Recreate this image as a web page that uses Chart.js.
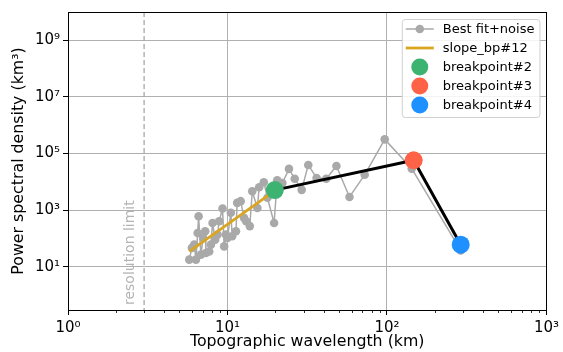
<!DOCTYPE html>
<html>
<head>
<meta charset="utf-8">
<script src="https://cdn.jsdelivr.net/npm/chart.js@4"></script>
<style>
  html, body { margin: 0; padding: 0; background: #fff; }
</style>
</head>
<body>
<canvas id="psdChart" width="563" height="352"></canvas>
<script>
// Best fit + noise (wavelength in km, PSD in km^3)
const wavelength = [5.76, 5.98, 6.19, 6.34, 6.50, 6.59, 6.81, 7.04, 7.25, 7.32, 7.68, 7.87, 8.06, 8.37, 8.66, 8.87,
  9.31, 9.53, 9.77, 10.0, 10.5, 10.7, 11.3, 11.5, 12.1, 12.7, 13.1, 13.8, 14.3, 15.4, 15.8, 16.9, 17.8, 19.6,
  20.5, 22.1, 24.3, 26.4, 29.2, 32.1, 36.2, 41.6, 48.2, 58.2, 72.5, 96.8, 143, 290];
const psd = [18, 47, 61, 18, 158, 616, 27, 105, 182, 31, 35, 61, 355, 91, 138, 408,
  1150, 53, 138, 105, 810, 120, 182, 1820, 2090, 537, 408, 275, 4680, 1200, 6470, 9770, 2750, 355,
  11500, 9120, 28800, 12900, 5250, 39800, 13800, 12900, 36300, 2950, 17800, 318000, 29500, 38];

// slope fit up to breakpoint #2
const slopeX = [5.77, 18.2];
const slopeY = [35.3, 3470];

// breakpoints
const bpLabels = ['breakpoint#2', 'breakpoint#3', 'breakpoint#4'];
const bpX = [19.8, 147, 290];
const bpY = [5130, 58200, 60.5];
const bpColors = ['#3cb371', '#ff6347', '#1e90ff'];

const resolutionLimit = 3;

const xTickValues = [1, 10, 100, 1000];
const xTickLabels = ['10⁰', '10¹', '10²', '10³'];
const yTickValues = [1e1, 1e3, 1e5, 1e7, 1e9];
const yTickLabels = ['10¹', '10³', '10⁵', '10⁷', '10⁹'];

Chart.defaults.font.family = "'DejaVu Sans', sans-serif";
Chart.defaults.font.size = 15;
Chart.defaults.color = '#000';

const toPts = (xs, ys) => xs.map((x, i) => ({ x: x, y: ys[i] }));

const datasets = [];
bpLabels.forEach((lab, i) => {
  datasets.push({
    label: lab, inLegend: true, kind: 'dot',
    data: [{ x: bpX[i], y: bpY[i] }],
    showLine: false, pointRadius: 9, pointHoverRadius: 9,
    pointBackgroundColor: bpColors[i], pointBorderWidth: 0,
    backgroundColor: bpColors[i], borderColor: bpColors[i], order: 0
  });
});
datasets.unshift({
  label: 'slope_bp#12', inLegend: true, kind: 'line',
  data: toPts(slopeX, slopeY), showLine: true, pointRadius: 0,
  borderColor: '#daa520', borderWidth: 2.8, order: 2
});
datasets.unshift({
  label: 'Best fit+noise', inLegend: true, kind: 'lineDot',
  data: toPts(wavelength, psd), showLine: true,
  borderColor: '#a9a9a9', borderWidth: 1.5, borderJoinStyle: 'round',
  pointRadius: 4.3, pointBackgroundColor: '#a9a9a9', pointBorderWidth: 0,
  order: 3
});
datasets.push({
  label: 'breakpoint fit', inLegend: false,
  data: toPts(bpX, bpY), showLine: true, pointRadius: 0,
  borderColor: '#000', borderWidth: 3, order: 1
});

// resolution line, minor ticks, frame, legend
const extras = {
  id: 'extras',
  beforeDatasetsDraw(chart) {
    const { ctx, chartArea: a, scales: { x } } = chart;
    const px = x.getPixelForValue(resolutionLimit);
    ctx.save();
    ctx.strokeStyle = '#a0a0a0';
    ctx.lineWidth = 1.2;
    ctx.setLineDash([5, 3]);
    ctx.beginPath();
    ctx.moveTo(px, a.top);
    ctx.lineTo(px, a.bottom);
    ctx.stroke();
    ctx.setLineDash([]);
    ctx.translate(px - 14, a.bottom - 5);
    ctx.rotate(-Math.PI / 2);
    ctx.fillStyle = '#b4b4b4';
    ctx.font = "14px 'DejaVu Sans'";
    ctx.textAlign = 'left';
    ctx.textBaseline = 'middle';
    ctx.fillText('resolution limit', 0, 0);
    ctx.restore();
  },
  afterDraw(chart) {
    const { ctx, chartArea: a, scales: { x } } = chart;
    ctx.save();
    // minor x ticks
    ctx.strokeStyle = '#000';
    ctx.lineWidth = 0.8;
    for (let d = 1; d < 1000; d *= 10) {
      for (let m = 2; m < 10; m++) {
        const px = Math.round(x.getPixelForValue(m * d)) + 0.5;
        ctx.beginPath();
        ctx.moveTo(px, a.bottom);
        ctx.lineTo(px, a.bottom + 3);
        ctx.stroke();
      }
    }
    // frame
    ctx.lineWidth = 1;
    ctx.strokeRect(Math.round(a.left) + 0.5, Math.round(a.top) + 0.5,
      Math.round(a.right - a.left), Math.round(a.bottom - a.top));

    // legend
    const items = chart.data.datasets.filter(d => d.inLegend);
    ctx.font = "13px 'DejaVu Sans'";
    const tw = Math.max(...items.map(d => ctx.measureText(d.label).width));
    const rowH = 19;
    const w = 4 + 28 + 9 + tw + 5;
    const h = items.length * rowH + 3;
    const bx = a.right - 7 - w;
    const by = a.top + 7;
    ctx.fillStyle = 'rgba(255,255,255,0.85)';
    ctx.strokeStyle = '#d0d0d0';
    ctx.beginPath();
    ctx.roundRect(bx + 0.5, by + 0.5, w, h, 3);
    ctx.fill();
    ctx.stroke();
    items.forEach((d, i) => {
      const cy = by + 10 + i * rowH;
      const hx = bx + 4;
      if (d.kind === 'line' || d.kind === 'lineDot') {
        ctx.strokeStyle = d.borderColor;
        ctx.lineWidth = d.borderWidth;
        ctx.beginPath();
        ctx.moveTo(hx, cy);
        ctx.lineTo(hx + 28, cy);
        ctx.stroke();
      }
      if (d.kind === 'lineDot' || d.kind === 'dot') {
        ctx.fillStyle = d.pointBackgroundColor;
        ctx.beginPath();
        ctx.arc(hx + 14, cy, d.kind === 'dot' ? 8.5 : 4.3, 0, Math.PI * 2);
        ctx.fill();
      }
      ctx.fillStyle = '#000';
      ctx.textAlign = 'left';
      ctx.textBaseline = 'middle';
      ctx.fillText(d.label, hx + 37, cy + 1);
    });
    ctx.restore();
  }
};

new Chart(document.getElementById('psdChart'), {
  type: 'scatter',
  data: { datasets: datasets },
  options: {
    responsive: false,
    animation: false,
    layout: { padding: { top: 12, right: 15, left: 0, bottom: 0 } },
    plugins: { legend: { display: false }, tooltip: { enabled: false } },
    scales: {
      x: {
        type: 'logarithmic',
        min: 1, max: 1000,
        afterBuildTicks: s => { s.ticks = xTickValues.map(v => ({ value: v })); },
        afterFit: s => { s.height = 42; },
        ticks: { autoSkip: false, maxRotation: 0, padding: 4, callback: (v, i) => xTickLabels[i] },
        grid: { color: '#b0b0b0', lineWidth: 1, tickColor: '#000', tickLength: 5 },
        border: { display: false },
        title: { display: true, text: 'Topographic wavelength (km)', font: { size: 15.8 }, padding: { top: 0, bottom: 1 } }
      },
      y: {
        type: 'logarithmic',
        min: Math.pow(10, -0.5), max: 1e10,
        afterBuildTicks: s => { s.ticks = yTickValues.map(v => ({ value: v })); },
        afterFit: s => { s.width = 68; },
        ticks: { autoSkip: false, padding: 3, callback: (v, i) => yTickLabels[i] },
        grid: { color: '#b0b0b0', lineWidth: 1, tickColor: '#000', tickLength: 5 },
        border: { display: false },
        title: { display: true, text: 'Power spectral density (km³)', font: { size: 15.8 }, padding: { top: 9, bottom: 0 } }
      }
    }
  },
  plugins: [extras]
});
</script>
</body>
</html>
